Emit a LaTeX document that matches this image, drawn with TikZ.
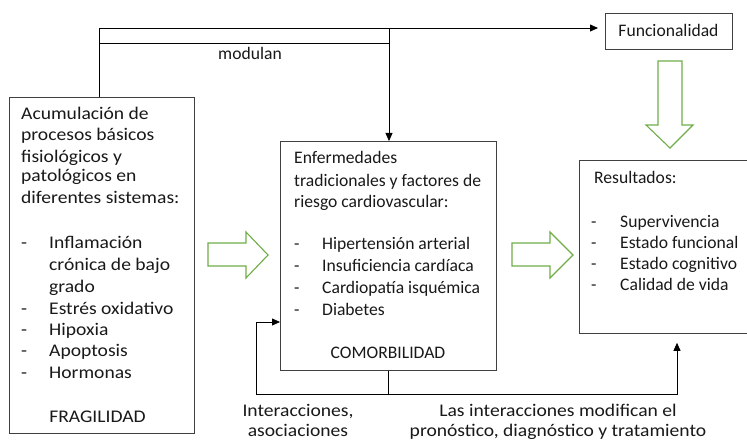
\documentclass[tikz,border=0pt]{standalone}
\usepackage{fontspec}
\setmainfont{Carlito}
\newfontfamily\widefont[FakeStretch=1.1]{Carlito}
\usetikzlibrary{arrows.meta}
\definecolor{arrgreen}{HTML}{70AD47}
\definecolor{boxgray}{HTML}{404040}
\begin{document}
\begin{tikzpicture}[x=1pt,y=-1pt,
  box/.style={draw=boxgray, line width=0.8pt, inner sep=0pt, anchor=north west},
  txt/.style={anchor=base west, inner sep=0pt, font=\fontsize{17.6}{21}\selectfont, text=black!90},
  ctr/.style={txt, anchor=base},
  bigtxt/.style={txt, font=\widefont\fontsize{17.8}{21}\selectfont},
  bigctr/.style={bigtxt, anchor=base},
  conn/.style={line width=0.8pt, draw=black},
  arr/.style={conn, -{Triangle[length=8pt,width=7pt]}},
  hollowarrow/.style={draw=arrgreen, line width=1.1pt, line join=miter}]
\useasboundingbox (0,0) rectangle (747,441);
\fill[white] (0,0) rectangle (747,441);

% boxes
\node[box, minimum width=185pt, minimum height=336pt] (frag) at (9,97) {};
\node[box, minimum width=216pt, minimum height=229pt] (comor) at (280,141) {};
\node[box, minimum width=175pt, minimum height=173pt] (res) at (579,160) {};
\node[box, minimum width=127pt, minimum height=36pt] (func) at (605,13) {};
\node[ctr] (funct) at (668.5,37) {Funcionalidad};

% left box text
\foreach \y/\t [count=\i] in {120/Acumulación de, 141/procesos básicos, 162/fisiológicos y, 182/patológicos en, 203/diferentes sistemas:}
  \node[bigtxt] (fa\i) at (21,\y) {\t};
\foreach \y/\t [count=\i] in {248/Inflamación, 314/Estrés oxidativo, 335/Hipoxia, 356/Apoptosis, 378/Hormonas}
  {\node[bigtxt] (fd\i) at (21,\y) {-};
   \node[bigtxt] (fi\i) at (49,\y) {\t};}
\node[bigtxt] (fc1) at (49,270) {crónica de bajo};
\node[bigtxt] (fc2) at (49,292) {grado};
\node[bigctr] (fragt) at (97.5,422) {FRAGILIDAD};

% middle box text
\foreach \y/\t [count=\i] in {164/Enfermedades, 186/tradicionales y factores de, 207/riesgo cardiovascular:}
  \node[txt] (ca\i) at (294,\y) {\t};
\foreach \y/\t [count=\i] in {249/Hipertensión arterial, 271/Insuficiencia cardíaca, 293/Cardiopatía isquémica, 315/Diabetes}
  {\node[txt] (cd\i) at (294,\y) {-};
   \node[txt] (ci\i) at (322,\y) {\t};}
\node[ctr] (comort) at (388,358) {COMORBILIDAD};

% results box text
\node[txt] (rt) at (594,183) {Resultados:};
\foreach \y/\t [count=\i] in {227/Supervivencia, 248/Estado funcional, 269/Estado cognitivo, 290/Calidad de vida}
  {\node[txt] (rd\i) at (591,\y) {-};
   \node[txt] (ri\i) at (620,\y) {\t};}

% connectors top
\coordinate (tl) at (99,28);
\coordinate (tm) at (389,28);
\coordinate (ml) at (99,43);
\coordinate (mm) at (389,43);
\draw[arr, shorten >=7pt] (tl |- frag.north) -- (tl) -- (func.west |- tl);
\draw[conn] (ml) -- (mm);
\draw[arr] (tm) -- (tm |- comor.north);
\node[ctr] (mod) at (250,60) {modulan};

% connectors bottom
\coordinate (bl) at (256,394);
\coordinate (br) at (677,394);
\coordinate (lin) at (256,322);
\draw[conn] (comor.south) -- (comor.south |- bl);
\draw[arr] (comor.south |- bl) -- (bl) -- (lin) -- (comor.west |- lin);
\draw[arr, shorten >=9pt] (comor.south |- bl) -- (br) -- (br |- res.south);
\node[bigctr] (int1) at (298,416) {Interacciones,};
\node[bigctr] (int2) at (298,436) {asociaciones};
\node[bigctr] (mod1) at (558,416) {Las interacciones modifican el};
\node[bigctr] (mod2) at (558,436) {pronóstico, diagnóstico y tratamiento};

% green hollow arrows
\draw[hollowarrow] (208,243) -- (246,243) -- (246,232) -- (268,255) -- (246,278) -- (246,266) -- (208,266) -- cycle;
\draw[hollowarrow] (512,243) -- (550,243) -- (550,232) -- (573,255) -- (550,278) -- (550,266) -- (512,266) -- cycle;
\draw[hollowarrow] (658,61) -- (682,61) -- (682,125) -- (693,125) -- (670,148) -- (646,125) -- (658,125) -- cycle;
\end{tikzpicture}
\end{document}
